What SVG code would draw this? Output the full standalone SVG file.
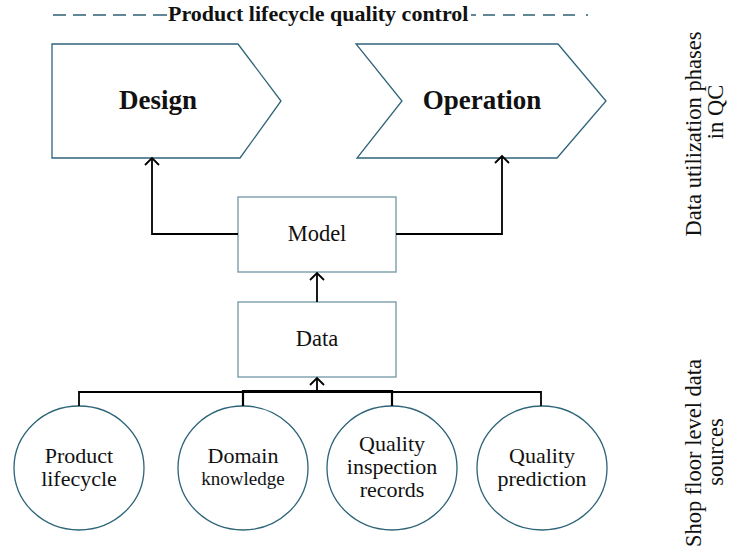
<svg xmlns="http://www.w3.org/2000/svg" width="732" height="552" viewBox="0 0 732 552">
  <style>
    .phase { fill: #ffffff; stroke: #2f6479; stroke-width: 1.3; }
    .box { fill: #ffffff; stroke: #7a9dab; stroke-width: 1.4; }
    .src { fill: #ffffff; stroke: #2d6478; stroke-width: 1.3; }
    .wire { fill: none; stroke: #000000; stroke-width: 1.8; }
    .dash { fill: none; stroke: #2e5f73; stroke-width: 1.3; }
    .serif { font-family: "Liberation Serif", "Times New Roman", serif; fill: #111111; }
    .phase-label { font-size: 27px; font-weight: bold; text-anchor: middle; }
    .box-label { font-size: 22.5px; text-anchor: middle; }
    .src-label { font-size: 22px; text-anchor: middle; }
    .side-label { font-size: 22.5px; text-anchor: middle; }
    .title { font-size: 22px; font-weight: bold; }
  </style>
  <defs>
    <marker id="openArrow" viewBox="0 0 16 16" refX="14" refY="8" markerWidth="16" markerHeight="16" markerUnits="userSpaceOnUse" orient="auto">
      <path d="M7 1 L14 8 L7 15" fill="none" stroke="#000000" stroke-width="1.8"/>
    </marker>
  </defs>

  <!-- title with dashed rule -->
  <g id="title">
    <path class="dash" d="M53 15h13 M73 15h13 M93 15h13 M113 15h13 M133 15h13 M153 15h14"/>
    <text class="serif title" x="168" y="21">Product lifecycle quality control</text>
    <path class="dash" d="M471 15h5 M483 15h12 M503 15h12 M523 15h12 M543 15h12 M563 15h12 M586 15h2"/>
  </g>

  <!-- utilisation phases -->
  <g id="design">
    <polygon class="phase" points="52,44 238,44 281,101 240,158 52,158"/>
    <text class="serif phase-label" x="158" y="109">Design</text>
  </g>
  <g id="operation">
    <polygon class="phase" points="356,44 558,44 606,101 557,158 357,158 402,101"/>
    <text class="serif phase-label" x="482" y="109">Operation</text>
  </g>

  <!-- model and data -->
  <g id="model">
    <rect class="box" x="238" y="197" width="158" height="75"/>
    <text class="serif box-label" x="317" y="241">Model</text>
  </g>
  <g id="data">
    <rect class="box" x="238" y="302" width="158" height="75"/>
    <text class="serif box-label" x="317" y="346">Data</text>
  </g>

  <!-- shop floor sources -->
  <g id="product-lifecycle">
    <ellipse class="src" cx="79" cy="468" rx="65" ry="62"/>
    <text class="serif src-label" x="79" y="463">Product</text>
    <text class="serif src-label" x="79" y="486">lifecycle</text>
  </g>
  <g id="domain-knowledge">
    <ellipse class="src" cx="243" cy="468" rx="65" ry="62"/>
    <text class="serif src-label" x="243" y="463">Domain</text>
    <text class="serif src-label" x="243" y="485" style="font-size:19px">knowledge</text>
  </g>
  <g id="quality-inspection">
    <ellipse class="src" cx="392" cy="468" rx="65" ry="62"/>
    <text class="serif src-label" x="392" y="451">Quality</text>
    <text class="serif src-label" x="392" y="474">inspection</text>
    <text class="serif src-label" x="392" y="497">records</text>
  </g>
  <g id="quality-prediction">
    <ellipse class="src" cx="542" cy="468" rx="65" ry="62"/>
    <text class="serif src-label" x="542" y="463">Quality</text>
    <text class="serif src-label" x="542" y="486">prediction</text>
  </g>

  <!-- connectors -->
  <g id="connectors">
    <path class="wire" d="M79 406 V392 H541 V406"/>
    <path class="wire" d="M243 406 V391 H392 V406" style="stroke-width:2.2"/>
    <path class="wire" d="M317 392 V378" marker-end="url(#openArrow)"/>
    <path class="wire" d="M317 302 V273" marker-end="url(#openArrow)"/>
    <path class="wire" d="M238 234 H152 V158" marker-end="url(#openArrow)"/>
    <path class="wire" d="M396 234 H502 V156" marker-end="url(#openArrow)"/>
  </g>

  <!-- side captions -->
  <g id="side-labels">
    <text class="serif side-label" transform="translate(701,134) rotate(-90)">Data utilization phases</text>
    <text class="serif side-label" transform="translate(723,112) rotate(-90)">in QC</text>
    <text class="serif side-label" transform="translate(701,453) rotate(-90)">Shop floor level data</text>
    <text class="serif side-label" transform="translate(723,452) rotate(-90)">sources</text>
  </g>
</svg>
